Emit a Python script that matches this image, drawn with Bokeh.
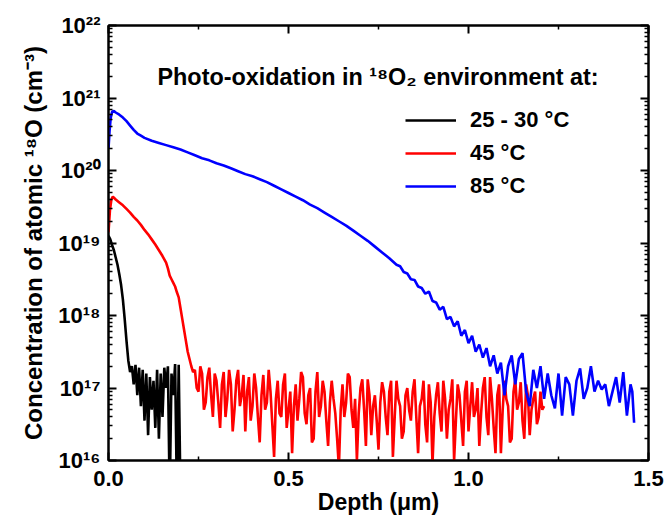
from bokeh.plotting import figure
from bokeh.models import (LinearAxis, LogAxis, FixedTicker, PrintfTickFormatter,
                          CustomJSTickFormatter, Label)
from bokeh.embed import file_html
from bokeh.resources import INLINE

FONT = "Liberation Sans"

# (depth in um, log10 of concentration in cm^-3)
black_pts = [
    (0.000, 19.10), (0.005, 19.05), (0.010, 18.97), (0.015, 18.90), (0.020, 18.80),
    (0.025, 18.70), (0.030, 18.57), (0.035, 18.42), (0.040, 18.22), (0.045, 17.95),
    (0.050, 17.65), (0.055, 17.38), (0.060, 17.22), (0.065, 17.30), (0.070, 17.05),
    (0.075, 17.32), (0.080, 16.90), (0.085, 17.28), (0.090, 16.75), (0.095, 17.25),
    (0.100, 16.55), (0.105, 17.20), (0.110, 16.35), (0.115, 17.15), (0.120, 16.70),
    (0.125, 17.10), (0.130, 16.45), (0.135, 17.25), (0.140, 16.30), (0.145, 17.20),
    (0.150, 16.60), (0.155, 17.28), (0.160, 17.00), (0.165, 17.30), (0.170, 15.50),
    (0.175, 17.20), (0.180, 16.90), (0.185, 17.33), (0.190, 15.50), (0.195, 17.32),
    (0.200, 15.50),
]

red_pts = [
    (0.000, 19.15), (0.004, 19.45), (0.008, 19.60), (0.012, 19.64), (0.020, 19.60),
    (0.030, 19.56), (0.040, 19.52), (0.050, 19.47), (0.060, 19.42), (0.070, 19.36),
    (0.080, 19.31), (0.090, 19.25), (0.100, 19.18), (0.110, 19.12), (0.120, 19.05),
    (0.130, 18.98), (0.140, 18.90), (0.150, 18.82), (0.160, 18.73), (0.165, 18.65),
    (0.170, 18.55), (0.175, 18.50), (0.180, 18.45), (0.185, 18.40), (0.190, 18.32),
    (0.195, 18.25), (0.200, 18.10), (0.205, 17.95), (0.210, 17.80), (0.215, 17.65),
    (0.220, 17.50), (0.225, 17.40), (0.230, 17.30), (0.235, 17.22),
    (0.240, 17.25), (0.245, 17.00), (0.250, 16.95), (0.255, 17.30), (0.260, 17.20),
    (0.265, 16.70), (0.270, 16.80), (0.275, 17.15), (0.280, 17.28), (0.285, 16.90),
    (0.290, 16.60), (0.295, 17.20), (0.300, 17.10), (0.305, 16.80), (0.310, 16.45),
    (0.315, 17.05), (0.320, 17.22), (0.325, 16.60), (0.330, 16.85), (0.335, 17.25),
    (0.340, 17.05), (0.345, 16.40), (0.350, 16.70), (0.355, 17.10), (0.360, 17.25),
    (0.365, 16.75), (0.370, 16.90), (0.375, 17.18), (0.380, 16.40), (0.385, 16.95),
    (0.390, 17.15), (0.395, 16.55), (0.400, 16.75), (0.405, 17.20), (0.410, 17.00),
    (0.415, 16.60), (0.420, 16.25), (0.425, 16.90), (0.430, 17.18), (0.435, 16.70),
    (0.440, 16.80), (0.445, 17.25), (0.450, 16.95), (0.455, 16.50), (0.460, 16.05),
    (0.465, 16.85), (0.470, 17.10), (0.475, 16.65), (0.480, 16.60), (0.485, 17.05),
    (0.490, 17.20), (0.495, 16.45), (0.500, 16.70), (0.505, 16.95), (0.510, 16.10),
    (0.515, 16.75), (0.520, 17.05), (0.525, 16.55), (0.530, 16.85), (0.535, 17.22),
    (0.540, 17.15), (0.545, 16.65), (0.550, 16.50), (0.555, 16.90), (0.560, 17.00),
    (0.565, 16.25), (0.570, 16.30), (0.575, 16.95), (0.580, 17.22), (0.585, 16.60),
    (0.590, 16.75), (0.595, 17.10), (0.600, 16.95), (0.605, 16.55), (0.610, 16.20),
    (0.615, 16.80), (0.620, 17.10), (0.625, 16.85), (0.630, 16.65), (0.635, 16.30),
    (0.640, 15.90), (0.645, 16.70), (0.650, 17.05), (0.655, 16.60), (0.660, 16.80),
    (0.665, 17.20), (0.670, 17.15), (0.675, 16.70), (0.680, 16.45), (0.685, 16.85),
    (0.690, 16.00), (0.695, 16.65), (0.700, 17.00), (0.705, 17.12), (0.710, 16.70),
    (0.715, 16.20), (0.720, 17.12), (0.725, 16.90), (0.730, 16.35), (0.735, 16.75),
    (0.740, 16.90), (0.745, 16.55), (0.750, 16.15), (0.755, 16.80), (0.760, 17.08),
    (0.765, 16.95), (0.770, 16.60), (0.775, 16.35), (0.780, 16.95), (0.785, 17.10),
    (0.790, 16.05), (0.795, 16.60), (0.800, 17.10), (0.805, 16.85), (0.810, 16.75),
    (0.815, 16.30), (0.820, 16.40), (0.825, 16.90), (0.830, 17.00), (0.835, 16.70),
    (0.840, 16.55), (0.845, 16.95), (0.850, 17.12), (0.855, 16.60), (0.860, 16.10),
    (0.865, 16.75), (0.870, 16.85), (0.875, 17.10), (0.880, 16.50), (0.885, 16.25),
    (0.890, 17.05), (0.895, 16.80), (0.900, 15.95), (0.905, 16.60), (0.910, 16.90),
    (0.915, 17.08), (0.920, 16.65), (0.925, 16.40), (0.930, 17.10), (0.935, 16.85),
    (0.940, 16.30), (0.945, 16.70), (0.950, 16.85), (0.955, 17.12), (0.960, 16.00),
    (0.965, 16.55), (0.970, 17.05), (0.975, 16.90), (0.980, 16.55), (0.985, 16.20),
    (0.990, 16.95), (0.995, 17.10), (1.000, 16.40), (1.005, 16.75), (1.010, 17.08),
    (1.015, 16.60), (1.020, 16.70), (1.025, 17.00), (1.030, 16.20), (1.035, 16.65),
    (1.040, 17.00), (1.045, 17.15), (1.050, 16.60), (1.055, 16.35), (1.060, 17.15),
    (1.065, 16.85), (1.070, 16.45), (1.075, 16.10), (1.080, 16.90), (1.085, 17.05),
    (1.090, 16.10), (1.095, 16.70), (1.100, 17.10), (1.105, 16.85), (1.110, 16.75),
    (1.115, 16.25), (1.120, 16.30), (1.125, 16.95), (1.130, 17.12), (1.135, 16.70),
    (1.140, 16.80), (1.145, 17.08), (1.150, 16.55), (1.155, 16.30), (1.160, 17.05),
    (1.165, 16.90), (1.170, 16.35), (1.175, 16.70), (1.180, 16.85), (1.185, 16.95),
    (1.190, 16.50), (1.195, 16.60), (1.200, 16.95), (1.205, 16.70), (1.210, 16.75),
]

blue_pts = [
    (0.000, 20.30), (0.003, 20.55), (0.006, 20.72), (0.010, 20.81), (0.015, 20.82),
    (0.020, 20.80), (0.030, 20.77), (0.040, 20.73), (0.050, 20.68), (0.060, 20.62),
    (0.070, 20.56), (0.080, 20.51), (0.090, 20.48), (0.100, 20.45), (0.120, 20.41),
    (0.140, 20.38), (0.160, 20.35), (0.180, 20.32), (0.200, 20.29), (0.220, 20.25),
    (0.240, 20.21), (0.260, 20.17), (0.280, 20.14), (0.300, 20.10), (0.320, 20.07),
    (0.340, 20.03), (0.360, 19.99), (0.380, 19.95), (0.400, 19.92), (0.420, 19.88),
    (0.440, 19.84), (0.460, 19.79), (0.480, 19.74), (0.500, 19.69), (0.520, 19.64),
    (0.540, 19.59), (0.560, 19.53), (0.580, 19.48), (0.600, 19.42), (0.620, 19.36),
    (0.640, 19.30), (0.660, 19.24), (0.680, 19.17), (0.700, 19.10), (0.720, 19.03),
    (0.740, 18.95), (0.760, 18.87), (0.780, 18.79),
    (0.80, 18.70), (0.81, 18.68), (0.82, 18.60), (0.83, 18.58), (0.84, 18.50),
    (0.85, 18.49), (0.86, 18.40), (0.87, 18.38), (0.88, 18.30), (0.89, 18.33),
    (0.90, 18.20), (0.91, 18.18), (0.92, 18.08), (0.93, 18.12), (0.94, 17.95),
    (0.95, 17.98), (0.96, 17.85), (0.97, 17.92), (0.98, 17.72), (0.99, 17.80),
    (1.00, 17.62), (1.01, 17.72), (1.02, 17.50), (1.03, 17.60), (1.04, 17.42),
    (1.05, 17.55), (1.06, 17.30), (1.07, 17.45), (1.08, 17.20),
    (1.09, 17.35), (1.10, 16.90), (1.11, 17.30), (1.12, 17.45), (1.13, 17.05),
    (1.14, 17.40), (1.15, 17.48), (1.16, 16.95), (1.17, 16.75), (1.18, 17.25),
    (1.19, 17.00), (1.20, 17.30), (1.21, 16.85), (1.22, 17.20), (1.23, 16.90),
    (1.24, 16.72), (1.25, 17.20), (1.26, 16.62), (1.27, 17.15), (1.28, 17.05),
    (1.29, 16.62), (1.30, 17.10), (1.31, 17.27), (1.32, 16.85), (1.33, 17.00),
    (1.34, 17.30), (1.35, 16.95), (1.36, 17.10), (1.37, 16.98), (1.38, 17.05),
    (1.39, 16.75), (1.40, 16.95), (1.41, 17.15), (1.42, 16.80), (1.43, 17.22),
    (1.44, 16.62), (1.45, 17.05), (1.455, 16.95), (1.46, 16.52),
]

series_names = ["25 - 30 \u00b0C", "45 \u00b0C", "85 \u00b0C"]
series_colors = ["#000000", "#ff0000", "#0000ff"]
series_pts = [black_pts, red_pts, blue_pts]

x_ticks = [0.0, 0.5, 1.0, 1.5]
x_minor_ticks = [0.25, 0.75, 1.25]
y_ticks = [1e16, 1e17, 1e18, 1e19, 1e20, 1e21, 1e22]
y_tick_labels = ["10\u00b9\u2076", "10\u00b9\u2077", "10\u00b9\u2078", "10\u00b9\u2079",
                 "10\u00b2\u2070", "10\u00b2\u00b9", "10\u00b2\u00b2"]
y_minor_ticks = [m * d for d in y_ticks[:-1] for m in range(2, 10)]

title_text = "Photo-oxidation in \u00b9\u2078O\u2082 environment at:"
x_label = "Depth (\u03bcm)"
y_label = "Concentration of atomic \u00b9\u2078O (cm\u207b\u00b3)"

p = figure(frame_width=540, frame_height=435,
           x_range=(0, 1.5), y_range=(1e16, 1e22), y_axis_type="log",
           output_backend="svg", toolbar_location=None,
           min_border_left=108, min_border_right=16,
           min_border_top=25, min_border_bottom=57)
p.xgrid.visible = False
p.ygrid.visible = False
p.outline_line_color = "black"
p.outline_line_width = 2
p.background_fill_color = "white"
p.border_fill_color = "white"

for pts, name, color in zip(series_pts, series_names, series_colors):
    xs = [d for d, _ in pts]
    ys = [10 ** e for _, e in pts]
    p.line(xs, ys, line_color=color, line_width=2.6, legend_label=name)


def style_axis(ax, labels=True):
    ax.axis_line_width = 2
    ax.axis_line_color = "black"
    ax.major_tick_line_width = 2
    ax.minor_tick_line_width = 1.5
    ax.major_tick_in = 8
    ax.major_tick_out = 0
    ax.minor_tick_in = 4
    ax.minor_tick_out = 0
    ax.major_label_text_font = FONT
    ax.major_label_text_font_style = "bold"
    ax.major_label_text_color = "black"
    ax.major_label_text_font_size = "22px"
    if not labels:
        ax.formatter = CustomJSTickFormatter(code="return ''")
        ax.major_label_text_font_size = "8px"
        ax.major_label_standoff = 0
    ax.axis_label_text_font = FONT
    ax.axis_label_text_font_style = "bold"
    ax.axis_label_text_font_size = "23px"
    ax.axis_label_text_color = "black"


xa = p.xaxis[0]
xa.ticker = FixedTicker(ticks=x_ticks, minor_ticks=x_minor_ticks)
xa.formatter = PrintfTickFormatter(format="%.1f")
style_axis(xa)
xa.major_label_standoff = 10
xa.axis_label = x_label
xa.axis_label_standoff = 0

ya = p.yaxis[0]
ya.ticker = FixedTicker(ticks=y_ticks, minor_ticks=y_minor_ticks)
ya.major_label_overrides = {t: lab for t, lab in zip(y_ticks, y_tick_labels)}
style_axis(ya)
ya.major_label_standoff = 8
ya.axis_label = y_label
ya.axis_label_standoff = 8
ya.axis_label_text_font_size = "24px"

top = LinearAxis(ticker=FixedTicker(ticks=x_ticks, minor_ticks=x_minor_ticks))
style_axis(top, labels=False)
p.add_layout(top, "above")

right = LogAxis(ticker=FixedTicker(ticks=y_ticks, minor_ticks=y_minor_ticks))
style_axis(right, labels=False)
p.add_layout(right, "right")

title = Label(x=0.136, y=1.92e21, text=title_text, text_font=FONT,
              text_font_style="bold", text_font_size="23.4px",
              text_color="black", text_baseline="alphabetic")
p.add_layout(title)

lg = p.legend[0]
lg.location = (297, 261)
lg.border_line_color = None
lg.background_fill_alpha = 0
lg.padding = 0
lg.margin = 0
lg.glyph_width = 51
lg.glyph_height = 24
lg.label_height = 24
lg.label_standoff = 14
lg.spacing = 7
lg.label_text_font = FONT
lg.label_text_font_style = "bold"
lg.label_text_font_size = "22px"
lg.label_text_color = "black"

open("out.html", "w").write(file_html(p, INLINE))
